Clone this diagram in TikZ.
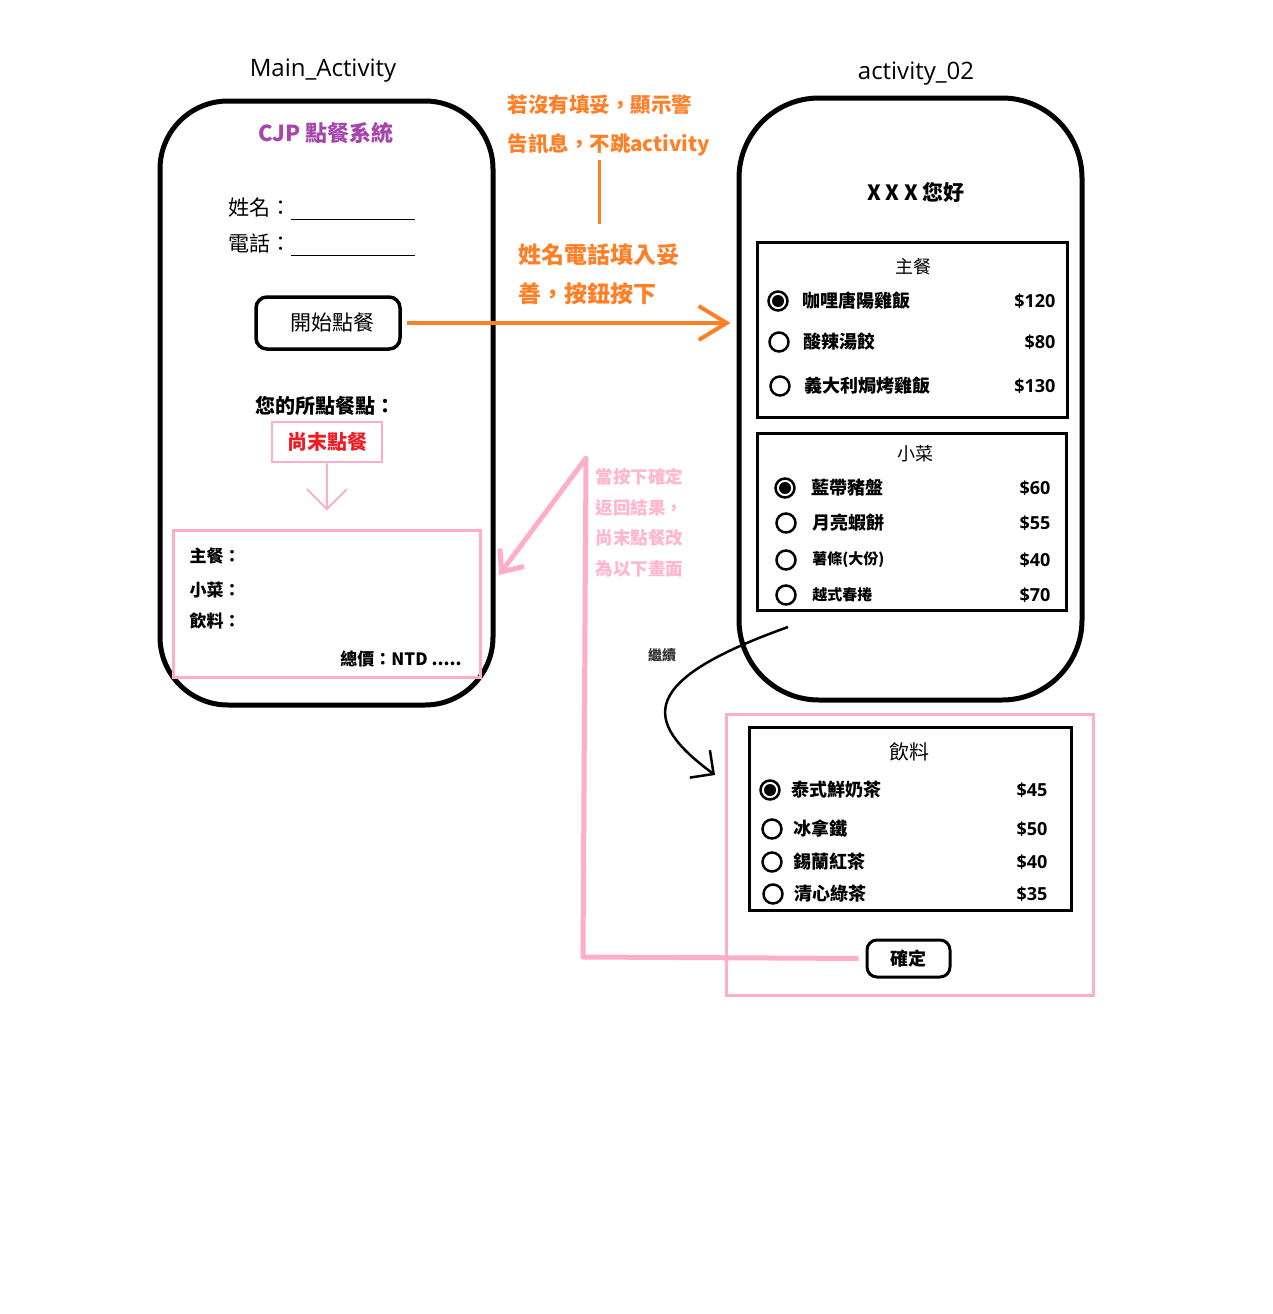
\documentclass[tikz,border=0pt]{standalone}
\usepackage{fontspec}
\setmainfont{Noto Sans CJK TC}
\newfontfamily\latinfont{Open Sans}
\usepackage{tikz}
\usetikzlibrary{arrows.meta,positioning,calc}

\definecolor{cjppurple}{RGB}{166,70,170}
\definecolor{hintorange}{RGB}{255,127,39}
\definecolor{backpink}{RGB}{255,174,201}
\definecolor{notered}{RGB}{237,28,36}
\definecolor{notepink}{RGB}{255,182,206}

\newcommand{\fs}[1]{\fontsize{#1}{#1}\selectfont}

\tikzset{
  phone/.style={draw,line width=5pt},
  menubox/.style={draw,line width=3pt},
  pinkbox/.style={draw=backpink,line width=3pt},
  button/.style={draw,line width=3.5pt,rounded corners=11pt},
  radio/.style={circle,draw,line width=2.5pt,minimum size=19pt,inner sep=0pt},
  picked/.style={radio,path picture={\fill (path picture bounding box.center) circle (6pt);}},
  dish/.style={anchor=west,font=\fs{18}\bfseries},
  cost/.style={anchor=east,font=\latinfont\fs{18}\bfseries},
}

\begin{document}
\begin{tikzpicture}[x=1pt,y=-1pt,>=latex]
  \useasboundingbox (0,0) rectangle (1272,1314);
  \fill[white] (0,0) rectangle (1272,1314);

  % first screen
  \node[font=\latinfont\fs{24}] (mainname) at (323,71) {Main\_Activity};
  \node[phone,rounded corners=68pt,minimum width=333pt,minimum height=604pt] (main) at (326.5,403) {};
  \node[font=\fs{22}\bfseries,text=cjppurple] (title) at (326,133) {CJP 點餐系統};
  \node[font=\fs{21},anchor=west,inner sep=0pt] (name) at (228,209) {姓名：\rule[-4pt]{124pt}{1.3pt}};
  \node[font=\fs{21},anchor=west,inner sep=0pt] (tel) at (228,245) {電話：\rule[-4pt]{124pt}{1.3pt}};
  \node[button,minimum width=144pt,minimum height=52pt] (start) at (328,323) {};
  \node[font=\fs{21}] (starttext) at (332,323) {開始點餐};
  \node[font=\fs{20}\bfseries] (yours) at (325,406) {您的所點餐點：};
  \node[draw=backpink,line width=2.5pt,font=\fs{20}\bfseries,text=notered,minimum width=110pt,minimum height=40pt] (status) at (327,442) {尚末點餐};
  \node[pinkbox,minimum width=307pt,minimum height=147pt] (result) at (326.5,603.5) {};
  \node[font=\fs{17}\bfseries,anchor=west] (rmain) at (186,556) {主餐：};
  \node[font=\fs{17}\bfseries,anchor=west] (rside) at (186,590) {小菜：};
  \node[font=\fs{17}\bfseries,anchor=west] (rdrink) at (186,621) {飲料：};
  \node[font=\fs{17}\bfseries,anchor=east] (total) at (465,659) {總價：NTD .....};
  \draw[backpink,line width=2pt,shorten >=18pt,-{Straight Barb[length=20pt,width=40pt]}] (status) -- (result);

  % hints
  \node[font=\fontsize{20.5}{39}\selectfont\bfseries,text=hintorange,align=left,anchor=west] (warn) at (504,125.5) {若沒有填妥，顯示警\\告訊息，不跳activity};
  \coordinate (warnfoot) at (599,224);
  \draw[hintorange,line width=3pt] (warnfoot |- warn.south) -- (warnfoot);
  \node[font=\fontsize{23}{39}\selectfont\bfseries,text=hintorange,align=left,anchor=west] (filled) at (515,274.5) {姓名電話填入妥\\善，按鈕按下};
  \node[font=\fontsize{17.5}{30.5}\selectfont\bfseries,text=notepink,align=left,anchor=west] (backnote) at (592,522.5) {當按下確定\\返回結果，\\尚末點餐改\\為以下畫面};

  % second screen
  \node[font=\latinfont\fs{24}] (secondname) at (916,74) {activity\_02};
  \node[phone,rounded corners=80pt,minimum width=343pt,minimum height=602pt] (second) at (910.5,399) {};
  \node[font=\fs{21}\bfseries] (hello) at (916,192) {X X X 您好};

  \node[menubox,minimum width=310pt,minimum height=175pt] (mainbox) at (912,329.5) {};
  \node[font=\fs{18}] (maintitle) at (913,267) {主餐};
  \foreach \k/\x/\y/\kind/\food/\price in {1/778/301/picked/咖哩唐陽雞飯/120,2/779/342/radio/酸辣湯餃/80,3/780/386/radio/義大利焗烤雞飯/130}{
    \node[\kind] (m\k) at (\x,\y) {};
    \node[dish] (mdish\k) at ([xshift=10pt]m\k.east) {\food};
    \node[cost] (mcost\k) at (1059,\y) {\$\price};
  }

  \node[menubox,minimum width=309pt,minimum height=177pt] (sidebox) at (911.5,521.5) {};
  \node[font=\fs{18}] (sidetitle) at (915,454) {小菜};
  \foreach \k/\x/\y/\kind/\food/\price/\sz in {1/785/488/picked/藍帶豬盤/60/18,2/786/523/radio/月亮蝦餅/55/18,3/786/560/radio/薯條(大份)/40/15,4/786/595/radio/越式春捲/70/15}{
    \node[\kind] (s\k) at (\x,\y) {};
    \node[dish,font=\fs{\sz}\bfseries] (sdish\k) at ([xshift=12pt]s\k.east) {\food};
    \node[cost] (scost\k) at (1054,\y) {\$\price};
  }

  \node[font=\fs{14}\bfseries,text=black!80] (contlabel) at (662,655) {繼續};
  \coordinate (contstart) at (788,627);
  \coordinate (conttip) at (715,775);
  \draw[line width=2.5pt,-{Straight Barb[length=17pt,width=34pt]}] (contstart) .. controls (640,680) and (640,720) .. (conttip);

  % drinks
  \node[pinkbox,minimum width=367pt,minimum height=281pt] (drinkframe) at (909.5,854.5) {};
  \node[menubox,minimum width=322pt,minimum height=183pt] (drinkbox) at (910,818.5) {};
  \node[font=\fs{20}] (drinktitle) at (909,752) {飲料};
  \foreach \k/\x/\y/\kind/\food/\price in {1/770/790/picked/泰式鮮奶茶/45,2/772/829/radio/冰拿鐵/50,3/772/862/radio/錫蘭紅茶/40,4/773/894/radio/清心綠茶/35}{
    \node[\kind] (d\k) at (\x,\y) {};
    \node[dish] (ddish\k) at ([xshift=7pt]d\k.east) {\food};
    \node[cost] (dcost\k) at (1051,\y) {\$\price};
  }
  \node[button,line width=3pt,rounded corners=10pt,font=\fs{18}\bfseries,minimum width=83pt,minimum height=37pt] (ok) at (908.5,958.5) {確定};

  % flows
  \draw[hintorange,line width=4pt,shorten <=5pt,shorten >=6pt,-{Straight Barb[length=28pt,width=34pt]}] (start) -- (start -| second.west);
  \coordinate (lowturn) at (583,957);
  \coordinate (highturn) at (586,458);
  \coordinate (backtip) at (499,575);
  \draw[backpink,line width=5pt,line join=round,shorten <=7pt,-{Straight Barb[length=18pt,width=30pt]}] (ok.west) -- (lowturn) -- (highturn) -- (backtip);
\end{tikzpicture}
\end{document}
